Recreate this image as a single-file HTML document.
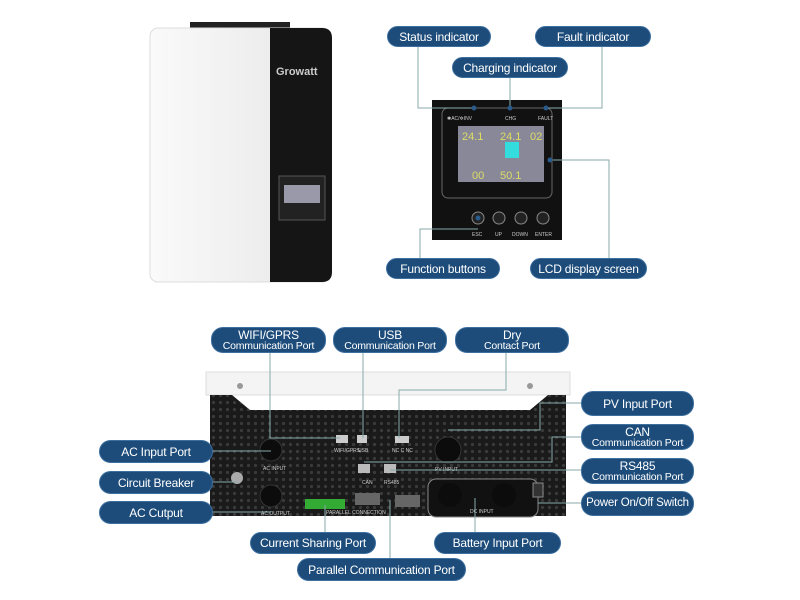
<!DOCTYPE html>
<html><head><meta charset="utf-8"><style>
body{margin:0;width:800px;height:600px;background:#fff;overflow:hidden;font-family:"Liberation Sans",sans-serif}
.p{position:absolute;background:#1d4c7a;border:1.5px solid #3d6f9f;border-radius:12px;color:#fff;text-align:center;box-sizing:border-box;font-size:12px;display:flex;flex-direction:column;justify-content:center;line-height:1;white-space:nowrap;letter-spacing:-0.2px}
.p small{font-size:10.5px}
svg{position:absolute;left:0;top:0}
</style></head><body>
<svg width="800" height="600">
<defs>
<pattern id="dots" width="7" height="7" patternUnits="userSpaceOnUse"><circle cx="3.5" cy="3.5" r="1.6" fill="#3a3a3a"/></pattern>
<linearGradient id="wg" x1="0" x2="1"><stop offset="0" stop-color="#fafafa"/><stop offset="1" stop-color="#e6e6e6"/></linearGradient>
</defs>
<!-- front inverter -->
<rect x="190" y="22" width="100" height="8" fill="#222"/>
<rect x="150" y="28" width="180" height="254" rx="8" fill="url(#wg)" stroke="#ddd"/>
<path d="M270 28 H322 Q332 28 332 38 V272 Q332 282 322 282 H270 Z" fill="#151515"/>
<text x="276" y="75" fill="#ccc" font-size="11" font-weight="bold">Growatt</text>
<rect x="279" y="176" width="46" height="44" fill="#222" stroke="#555"/>
<rect x="284" y="185" width="36" height="18" fill="#99a"/>
<!-- panel -->
<rect x="432" y="100" width="130" height="140" fill="#111"/>
<rect x="442" y="108" width="110" height="90" rx="6" fill="none" stroke="#666"/>
<rect x="458" y="126" width="86" height="56" fill="#889"/>
<text x="462" y="140" fill="#dd6" font-size="11">24.1</text><text x="500" y="140" fill="#dd6" font-size="11">24.1</text><text x="530" y="140" fill="#dd6" font-size="11">02</text>
<text x="472" y="179" fill="#dd6" font-size="11">00</text><text x="500" y="179" fill="#dd6" font-size="11">50.1</text>
<rect x="505" y="142" width="14" height="16" fill="#3dd"/>
<text x="447" y="120" fill="#ccc" font-size="5">✱AC/✲INV</text><text x="505" y="120" fill="#ccc" font-size="5">CHG</text><text x="538" y="120" fill="#ccc" font-size="5">FAULT</text>
<g fill="#222" stroke="#888"><circle cx="478" cy="218" r="6"/><circle cx="499" cy="218" r="6"/><circle cx="521" cy="218" r="6"/><circle cx="543" cy="218" r="6"/></g>
<g fill="#ccc" font-size="5"><text x="472" y="236">ESC</text><text x="495" y="236">UP</text><text x="512" y="236">DOWN</text><text x="535" y="236">ENTER</text></g>
<g stroke="#8aa" fill="none" stroke-width="1">
<path d="M418 36 V108 H474"/><path d="M510 77 V108"/><path d="M602 36 V108 H546"/>
<path d="M420 258 V229 H478"/><path d="M609 258 V160 H550"/>
</g>
<g fill="#2a5a8a"><circle cx="474" cy="108" r="2.5"/><circle cx="510" cy="108" r="2.5"/><circle cx="546" cy="108" r="2.5"/><circle cx="550" cy="160" r="2.5"/><circle cx="478" cy="218" r="2.5"/></g>
<!-- back unit -->
<path d="M206 372 H570 V395 H206 Z" fill="#f4f4f4" stroke="#ddd"/>
<path d="M210 395 L232 395 L250 410 H530 L548 395 H566 V508 Q566 516 556 516 H220 Q210 516 210 508 Z" fill="#1a1a1a"/>
<rect x="210" y="410" width="356" height="106" fill="#1a1a1a"/>
<path d="M210 395 L232 395 L250 410 H530 L548 395 H566 V516 H210 Z" fill="url(#dots)"/>
<circle cx="240" cy="386" r="3" fill="#999"/><circle cx="530" cy="386" r="3" fill="#999"/>
<g fill="#0c0c0c" stroke="#333"><circle cx="271" cy="450" r="11"/><circle cx="448" cy="450" r="13"/><circle cx="271" cy="496" r="11"/></g>
<rect x="428" y="479" width="110" height="38" rx="8" fill="#111" stroke="#888"/>
<circle cx="450" cy="495" r="12" fill="#0c0c0c"/><circle cx="504" cy="495" r="12" fill="#0c0c0c"/>
<rect x="305" y="499" width="40" height="10" fill="#3a3"/>
<rect x="355" y="493" width="25" height="12" fill="#666"/><rect x="395" y="495" width="25" height="12" fill="#666"/>
<rect x="533" y="483" width="10" height="14" fill="#333" stroke="#888"/>
<circle cx="237" cy="478" r="6" fill="#aaa"/>
<rect x="336" y="435" width="12" height="8" fill="#ccc"/><rect x="357" y="435" width="10" height="8" fill="#ccc"/><rect x="395" y="436" width="14" height="7" fill="#ccc"/>
<rect x="358" y="464" width="12" height="9" fill="#bbb"/><rect x="384" y="464" width="12" height="9" fill="#bbb"/>
<g fill="#ccc" font-size="5"><text x="263" y="470">AC INPUT</text><text x="261" y="515">AC OUTPUT</text><text x="435" y="471">PV INPUT</text><text x="334" y="452">WIFI/GPRS</text><text x="358" y="452">USB</text><text x="392" y="452">NC C NC</text><text x="326" y="514">PARALLEL CONNECTION</text><text x="470" y="513">DC INPUT</text><text x="362" y="484">CAN</text><text x="384" y="484">RS485</text></g>
<g stroke="#8aa" fill="none" stroke-width="1">
<path d="M270 352 V438 H340"/><path d="M363 352 V438"/><path d="M506 352 V390 H399 V438"/>
<path d="M581 403 H540 V430 H448"/><path d="M581 437 H552 V462 H364"/><path d="M581 470 H390"/><path d="M581 503 H538"/>
<path d="M212 451 H271"/><path d="M212 482 H237"/><path d="M212 512 H271"/>
<path d="M325 532 V505"/><path d="M390 558 V500"/><path d="M475 532 V498"/>
</g>
</svg>
<div class="p" style="left:387px;top:26px;width:104px;height:21px">Status indicator</div>
<div class="p" style="left:535px;top:26px;width:116px;height:21px">Fault indicator</div>
<div class="p" style="left:452px;top:57px;width:116px;height:21px">Charging indicator</div>
<div class="p" style="left:386px;top:258px;width:114px;height:21px">Function buttons</div>
<div class="p" style="left:530px;top:258px;width:117px;height:21px">LCD display screen</div>
<div class="p" style="left:211px;top:327px;width:115px;height:26px">WIFI/GPRS<small>Communication Port</small></div>
<div class="p" style="left:333px;top:327px;width:114px;height:26px">USB<small>Communication Port</small></div>
<div class="p" style="left:455px;top:327px;width:114px;height:26px">Dry<small>Contact Port</small></div>
<div class="p" style="left:581px;top:391px;width:113px;height:25px">PV Input Port</div>
<div class="p" style="left:581px;top:424px;width:113px;height:26px">CAN<small>Communication Port</small></div>
<div class="p" style="left:581px;top:458px;width:113px;height:26px">RS485<small>Communication Port</small></div>
<div class="p" style="left:581px;top:491px;width:113px;height:25px;font-size:11.5px">Power On/Off Switch</div>
<div class="p" style="left:99px;top:440px;width:114px;height:23px">AC Input Port</div>
<div class="p" style="left:99px;top:471px;width:114px;height:23px">Circuit Breaker</div>
<div class="p" style="left:99px;top:501px;width:114px;height:23px">AC Cutput</div>
<div class="p" style="left:250px;top:532px;width:126px;height:22px">Current Sharing Port</div>
<div class="p" style="left:434px;top:532px;width:127px;height:22px">Battery Input Port</div>
<div class="p" style="left:297px;top:558px;width:169px;height:23px">Parallel Communication Port</div>
</body></html>
